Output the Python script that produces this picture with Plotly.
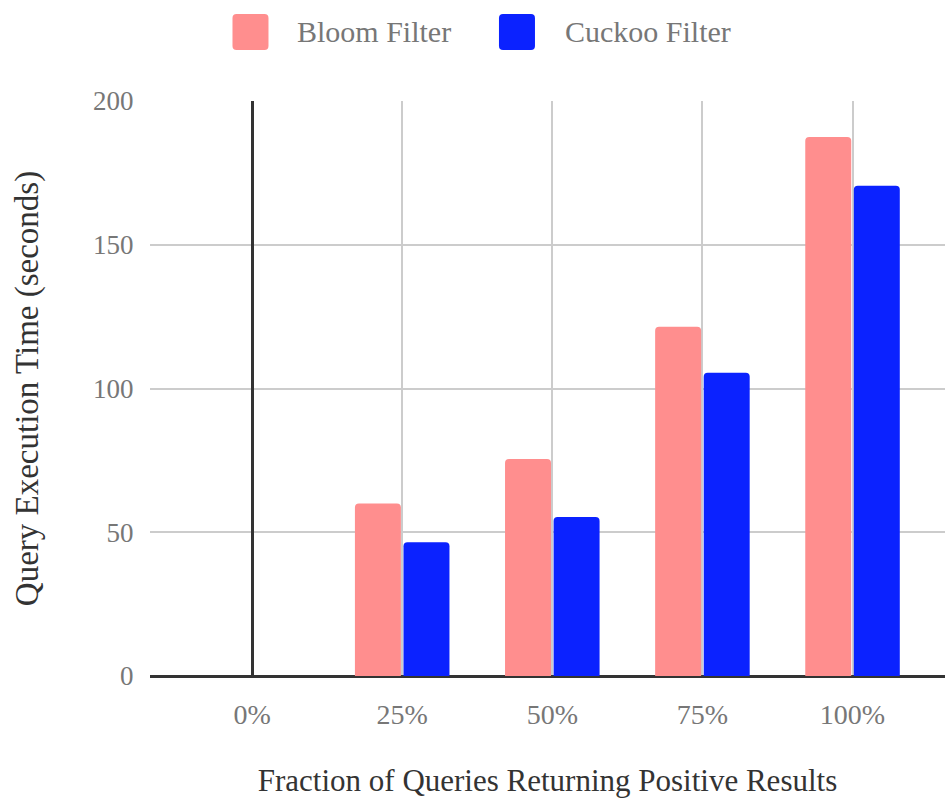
import plotly.graph_objects as go

# Share of queries that return a positive result
fractions = [0, 25, 50, 75, 100]
fraction_labels = ["0%", "25%", "50%", "75%", "100%"]

# Query execution time in seconds
bloom_times = [0, 60, 75.5, 121.5, 187.5]
cuckoo_times = [0, 46.5, 55.3, 105.5, 170.5]

series_names = ["Bloom Filter", "Cuckoo Filter"]
series_colors = ["#FF8E8E", "#0B22FF"]

FONT = "Liberation Serif"
TICK_GRAY = "#777777"

fig = go.Figure()
for name, vals, col in zip(series_names, [bloom_times, cuckoo_times], series_colors):
    fig.add_trace(go.Bar(
        x=fractions, y=vals, name=name,
        marker=dict(color=col, line=dict(width=0)),
        showlegend=False,
    ))

# Legend drawn by hand: large rounded swatches followed by the series names
def rounded_square(half, r):
    h = half
    return (f"M {-h + r},{-h} L {h - r},{-h} Q {h},{-h} {h},{-h + r} "
            f"L {h},{h - r} Q {h},{h} {h - r},{h} L {-h + r},{h} "
            f"Q {-h},{h} {-h},{h - r} L {-h},{-h + r} Q {-h},{-h} {-h + r},{-h} Z")

legend_swatch_x = [0.1264, 0.4616]
legend_text_x = [0.1824, 0.5195]
legend_y = 1.12
for sx, tx, name, col in zip(legend_swatch_x, legend_text_x, series_names, series_colors):
    fig.add_shape(
        type="path", xref="paper", yref="paper",
        xsizemode="pixel", ysizemode="pixel",
        xanchor=sx, yanchor=legend_y,
        path=rounded_square(18, 4),
        fillcolor=col, line=dict(width=0),
    )
    fig.add_annotation(
        x=tx, y=legend_y, xref="paper", yref="paper",
        xanchor="left", yanchor="middle", showarrow=False,
        text=name, font=dict(family=FONT, size=30, color=TICK_GRAY),
    )

fig.update_layout(
    width=945, height=801,
    margin=dict(l=150, r=0, t=101, b=125),
    paper_bgcolor="white", plot_bgcolor="white",
    barmode="group", bargap=0.353, bargroupgap=0.053,
    barcornerradius=4,
    font=dict(family=FONT, color=TICK_GRAY),
    xaxis=dict(
        range=[-17, 115.4],
        tickmode="array", tickvals=fractions, ticktext=fraction_labels,
        tickfont=dict(family=FONT, size=28, color=TICK_GRAY),
        ticks="outside", ticklen=13, tickcolor="rgba(0,0,0,0)",
        showgrid=True, gridcolor="#CCCCCC", gridwidth=2,
        zeroline=True, zerolinecolor="#333333", zerolinewidth=2.5,
        showline=False,
        title=dict(text="Fraction of Queries Returning Positive Results",
                   font=dict(family=FONT, size=31, color="#333333"), standoff=40),
    ),
    yaxis=dict(
        range=[0, 200],
        tickvals=[0, 50, 100, 150, 200],
        tickfont=dict(family=FONT, size=27, color=TICK_GRAY),
        ticks="outside", ticklen=10, tickcolor="rgba(0,0,0,0)",
        showgrid=True, gridcolor="#CCCCCC", gridwidth=2,
        zeroline=True, zerolinecolor="#333333", zerolinewidth=2.5,
        showline=False,
        title=dict(text="Query Execution Time (seconds)",
                   font=dict(family=FONT, size=33, color="#333333"), standoff=44),
    ),
)

fig.write_html("out.html")
